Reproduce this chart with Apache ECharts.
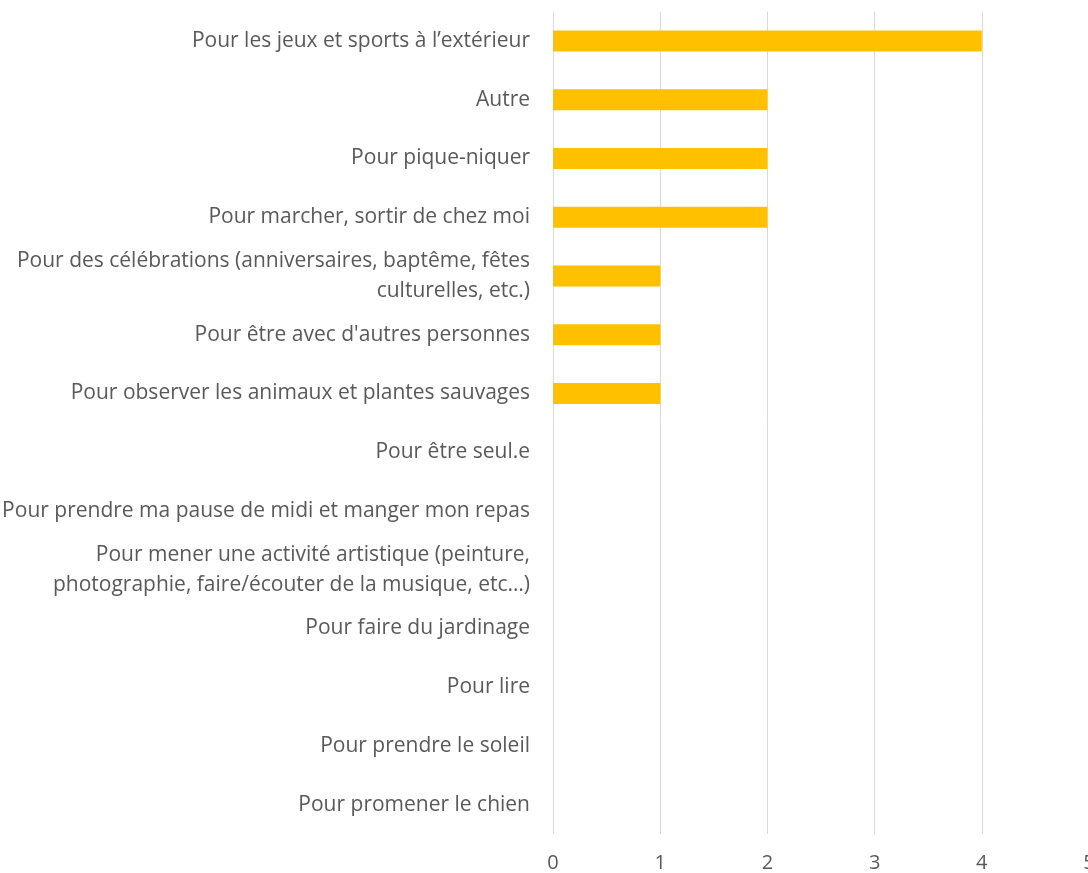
<!DOCTYPE html>
<html>
<head>
<meta charset="utf-8">
<script src="https://cdn.jsdelivr.net/npm/echarts@6/dist/echarts.min.js"></script>
<style>html,body{margin:0;padding:0;background:#fff}#c{width:1088px;height:873px}</style>
</head>
<body>
<div id="c"></div>
<script>
const categories = [
  "Pour les jeux et sports à l’extérieur",
  "Autre",
  "Pour pique-niquer",
  "Pour marcher, sortir de chez moi",
  "Pour des célébrations (anniversaires, baptême, fêtes\nculturelles, etc.)",
  "Pour être avec d'autres personnes",
  "Pour observer les animaux et plantes sauvages",
  "Pour être seul.e",
  "Pour prendre ma pause de midi et manger mon repas",
  "Pour mener une activité artistique (peinture,\nphotographie, faire/écouter de la musique, etc…)",
  "Pour faire du jardinage",
  "Pour lire",
  "Pour prendre le soleil",
  "Pour promener le chien"
];
const values = [4, 2, 2, 2, 1, 1, 1, 0, 0, 0, 0, 0, 0, 0];
const xTicks = { min: 0, max: 5, interval: 1 };

const chart = echarts.init(document.getElementById('c'));
chart.setOption({
  animation: false,
  grid: { left: 553, top: 11.5, width: 536, height: 822.5, containLabel: false, outerBoundsMode: 'none' },
  xAxis: {
    type: 'value', min: xTicks.min, max: xTicks.max, interval: xTicks.interval,
    axisLine: { show: false }, axisTick: { show: false },
    splitLine: { show: true, lineStyle: { color: '#d9d9d9', width: 1 } },
    axisLabel: { color: '#595959', fontFamily: 'Open Sans', fontSize: 20, margin: 19 }
  },
  yAxis: {
    type: 'category', data: categories, inverse: true,
    axisLine: { show: false }, axisTick: { show: false },
    axisLabel: { color: '#595959', fontFamily: 'Open Sans', fontSize: 21, margin: 23, align: 'right', lineHeight: 30, interval: 0 }
  },
  series: [{
    type: 'bar', data: values, barWidth: 21,
    itemStyle: { color: '#FFC000' }
  }]
});
</script>
</body>
</html>
